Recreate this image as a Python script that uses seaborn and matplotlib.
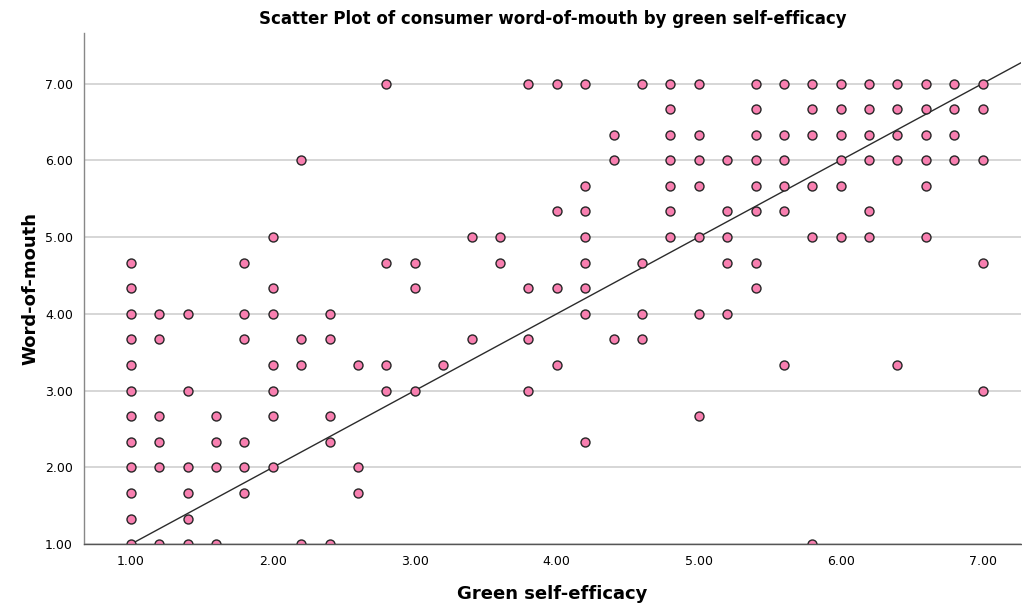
import numpy as np
import pandas as pd
import matplotlib
matplotlib.use("Agg")
import matplotlib.pyplot as plt
import seaborn as sns

# Green self-efficacy column -> observed word-of-mouth values
columns = {
    1.0: [14/3, 13/3, 4, 11/3, 10/3, 3, 8/3, 7/3, 2, 5/3, 4/3, 1],
    1.2: [4, 11/3, 8/3, 7/3, 2, 1],
    1.4: [4, 3, 2, 5/3, 4/3, 1],
    1.6: [8/3, 7/3, 2, 1],
    1.8: [14/3, 4, 11/3, 7/3, 2, 5/3],
    2.0: [5, 13/3, 4, 10/3, 3, 8/3, 2],
    2.2: [6, 11/3, 10/3, 1],
    2.4: [4, 11/3, 8/3, 7/3, 1],
    2.6: [10/3, 2, 5/3],
    2.8: [7, 14/3, 10/3, 3],
    3.0: [14/3, 13/3, 3],
    3.2: [10/3],
    3.4: [5, 11/3],
    3.6: [5, 14/3],
    3.8: [7, 13/3, 11/3, 3],
    4.0: [7, 16/3, 13/3, 10/3],
    4.2: [7, 17/3, 16/3, 5, 14/3, 13/3, 4, 7/3],
    4.4: [19/3, 6, 11/3],
    4.6: [7, 14/3, 4, 11/3],
    4.8: [7, 20/3, 19/3, 6, 17/3, 16/3, 5],
    5.0: [7, 19/3, 6, 17/3, 5, 4, 8/3],
    5.2: [6, 16/3, 5, 14/3, 4],
    5.4: [7, 20/3, 19/3, 6, 17/3, 16/3, 14/3, 13/3],
    5.6: [7, 19/3, 6, 17/3, 16/3, 10/3],
    5.8: [7, 20/3, 19/3, 17/3, 5, 1],
    6.0: [7, 20/3, 19/3, 6, 17/3, 5],
    6.2: [7, 20/3, 19/3, 6, 16/3, 5],
    6.4: [7, 20/3, 19/3, 6, 10/3],
    6.6: [7, 20/3, 19/3, 6, 17/3, 5],
    6.8: [7, 20/3, 19/3, 6],
    7.0: [7, 20/3, 6, 14/3, 3],
}
green_self_efficacy = [x for x, ys in columns.items() for _ in ys]
word_of_mouth = [y for ys in columns.values() for y in ys]

fit_x = [1.0, 7.27]
fit_y = [1.0, 7.27]

tick_vals = [1, 2, 3, 4, 5, 6, 7]
tick_labels = ["1.00", "2.00", "3.00", "4.00", "5.00", "6.00", "7.00"]

df = pd.DataFrame({"x": green_self_efficacy, "y": word_of_mouth})
fit = pd.DataFrame({"x": fit_x, "y": fit_y})

sns.set_style("white")
plt.rcParams["font.family"] = ["DejaVu Sans"]
plt.rcParams["text.color"] = "black"

fig = plt.figure(figsize=(10.22, 6.08), dpi=100)
ax = fig.add_axes([0.0822, 0.105, 0.9168, 0.841])

for v in tick_vals:
    ax.axhline(v, color="#cfcfcf", lw=1.2, zorder=0)

sns.lineplot(data=fit, x="x", y="y", ax=ax, color="#2b2b2b", lw=1.0, zorder=2)
sns.scatterplot(data=df, x="x", y="y", ax=ax, color="#f87fb0", edgecolor="#262626",
                linewidth=1.0, s=42, zorder=3, clip_on=True)

ax.set_xlim(0.67, 7.27)
ax.set_ylim(1.0, 7.66)
ax.set_xticks(tick_vals)
ax.set_xticklabels(tick_labels)
ax.set_yticks(tick_vals)
ax.set_yticklabels(tick_labels)
ax.tick_params(axis="both", length=0, labelsize=9, colors="black", pad=8)

ax.set_xlabel("Green self-efficacy", fontsize=13, fontweight="bold", labelpad=12, color="black")
ax.set_ylabel("Word-of-mouth", fontsize=13, fontweight="bold", labelpad=4, color="black")
ax.set_title("Scatter Plot of consumer word-of-mouth by green self-efficacy",
             fontsize=12, fontweight="bold", pad=6, color="black")

for side in ["top", "right"]:
    ax.spines[side].set_visible(False)
ax.spines["left"].set_color("#888888")
ax.spines["bottom"].set_color("#555555")
ax.spines["left"].set_linewidth(1.0)
ax.spines["bottom"].set_linewidth(1.0)
ax.spines["bottom"].set_zorder(4)

fig.savefig("out.png", dpi=100)
